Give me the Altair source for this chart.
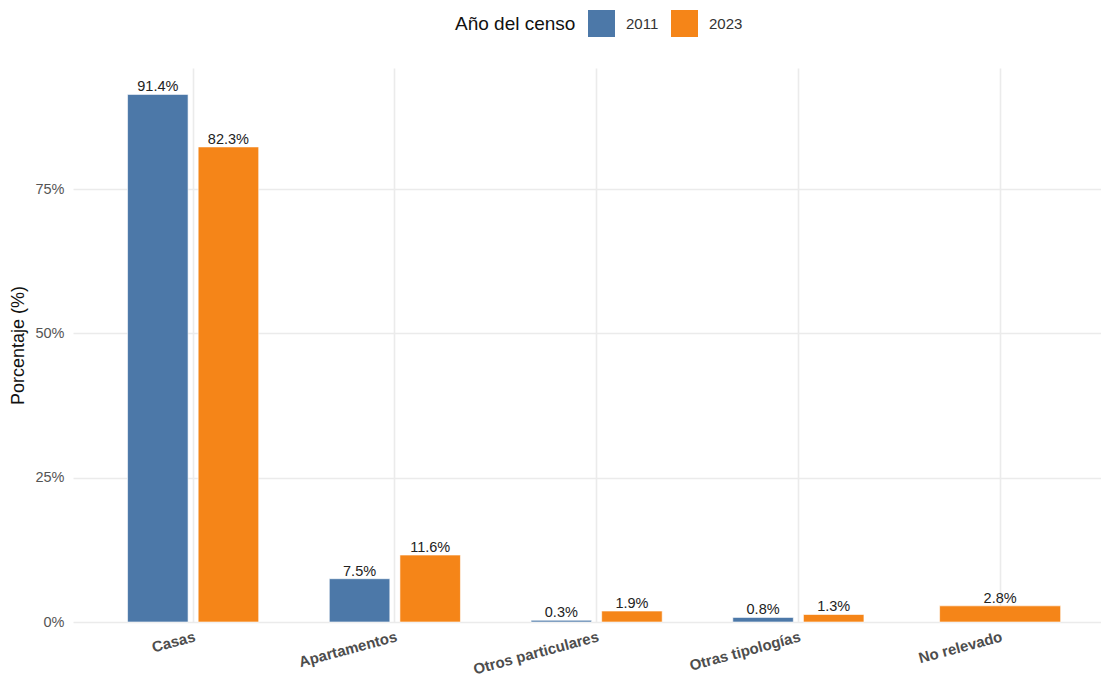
import altair as alt
import pandas as pd

categorias = ["Casas", "Apartamentos", "Otros particulares", "Otras tipologías", "No relevado"]
pct_2011 = [91.4, 7.5, 0.3, 0.8, None]
pct_2023 = [82.3, 11.6, 1.9, 1.3, 2.8]
anios = ["2011", "2023"]
colores = ["#4c78a8", "#f58518"]

rows = []
for cat, a, b in zip(categorias, pct_2011, pct_2023):
    solo = a is None or b is None
    for anio, v in zip(anios, (a, b)):
        if v is None:
            continue
        rows.append({"categoria": cat, "anio": anio, "pct": v,
                     "label": f"{v:.1f}%", "solo": solo})
df = pd.DataFrame(rows)
dual = df[~df["solo"]]
single = df[df["solo"]]

FONT = "Liberation Sans"

x_enc = alt.X(
    "categoria:N", sort=categorias, title=None,
    scale=alt.Scale(domain=categorias, paddingInner=0, paddingOuter=0.0477, align=1),
    axis=alt.Axis(labelAngle=345, labelAlign="right", labelBaseline="top",
                  labelFontWeight="bold", labelFontSize=15, labelColor="#4d4d4d",
                  labelPadding=7, ticks=False, domain=False, grid=True,
                  bandPosition=0.5, gridColor="#ebebeb", gridWidth=1.6,
                  labelFont=FONT),
)
y_enc = alt.Y(
    "pct:Q", title="Porcentaje (%)",
    scale=alt.Scale(domain=[0, 95.97], nice=False, zero=True),
    axis=alt.Axis(values=[0, 25, 50, 75], labelExpr="datum.value + '%'",
                  labelFontSize=14.5, labelColor="#555555", labelPadding=9,
                  ticks=False, domain=False, gridColor="#ebebeb", gridWidth=1.6,
                  titleFontSize=18, titleFontWeight="normal", titleColor="#111111",
                  titlePadding=7, labelFont=FONT, titleFont=FONT),
)
color_enc = alt.Color(
    "anio:N", title="Año del censo",
    scale=alt.Scale(domain=anios, range=colores),
    legend=alt.Legend(orient="none", legendX=382, legendY=-58, direction="horizontal",
                      titleOrient="left", titleBaseline="middle", titleAnchor="middle",
                      symbolType="square", symbolSize=729, symbolStrokeWidth=0,
                      symbolOpacity=1, labelFontSize=15, titleFontSize=19,
                      titleFontWeight="normal", titleColor="#111111", labelColor="#333333",
                      labelOffset=11, columnPadding=12, titlePadding=12, padding=0,
                      labelFont=FONT, titleFont=FONT),
)
off_enc = alt.XOffset("anio:N", scale=alt.Scale(domain=anios, paddingInner=0.1429, paddingOuter=0.5))

bars_dual = alt.Chart(dual).mark_bar(stroke="white", strokeWidth=0.6).encode(
    x=x_enc, xOffset=off_enc, y=y_enc, y2=alt.datum(0), color=color_enc)
bars_single = alt.Chart(single).mark_bar(
    stroke="white", strokeWidth=0.6, width=alt.RelativeBandSize(0.6)).encode(
    x=x_enc, y=y_enc, y2=alt.datum(0), color=color_enc)
text_dual = alt.Chart(dual).mark_text(
    baseline="alphabetic", dy=-3, fontSize=14.5, color="#222222", font=FONT).encode(
    x=x_enc, xOffset=off_enc, y=y_enc, text="label:N")
text_single = alt.Chart(single).mark_text(
    baseline="alphabetic", dy=-3, fontSize=14.5, color="#222222", font=FONT).encode(
    x=x_enc, y=y_enc, text="label:N")

chart = alt.layer(bars_dual, bars_single, text_dual, text_single).properties(
    width=1028, height=554,
    autosize=alt.AutoSizeParams(type="none"),
    padding={"left": 65, "top": 60, "right": 0, "bottom": 55},
).configure(font=FONT).configure_view(stroke=None)

chart.save("out.html", embed_options={"renderer": "svg", "actions": False})
